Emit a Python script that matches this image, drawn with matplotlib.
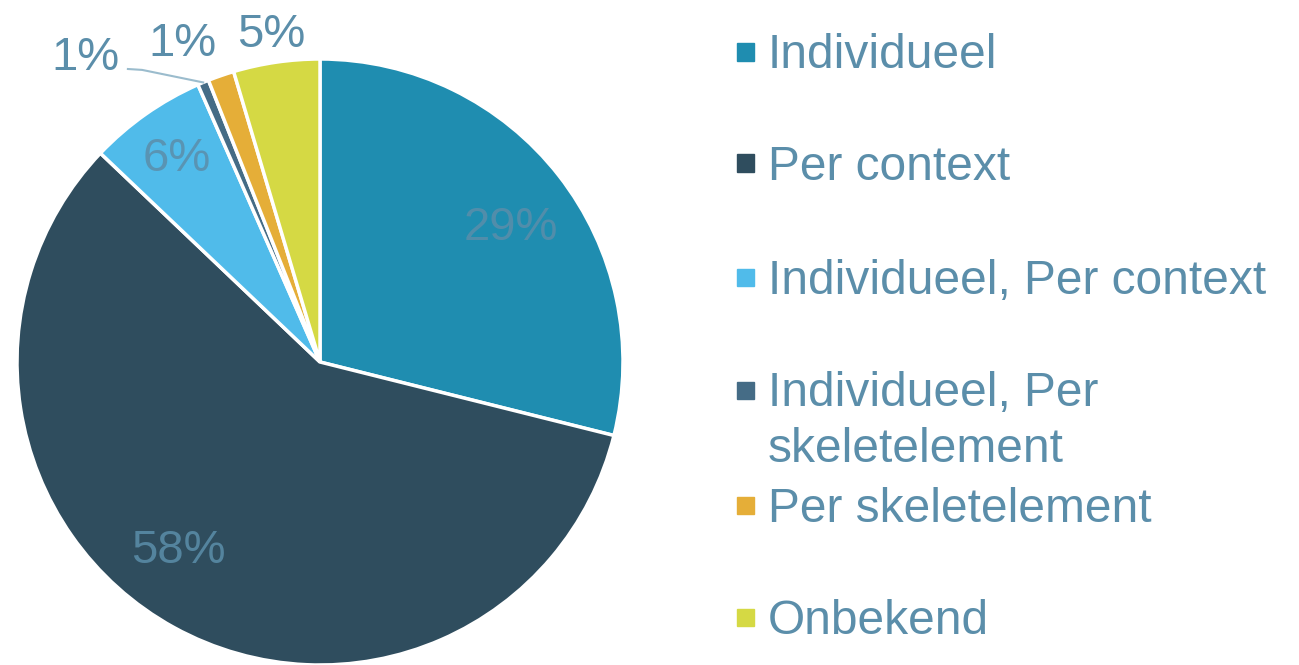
import numpy as np
import matplotlib.pyplot as plt
from matplotlib.patches import Rectangle

categories = ["Individueel", "Per context", "Individueel, Per context",
              "Individueel, Per\nskeletelement", "Per skeletelement", "Onbekend"]
shares = [28.9, 58.2, 6.3, 0.6, 1.4, 4.6]
colors = ["#1f8db0", "#2f4d5e", "#50bbea", "#456c86", "#e5ae38", "#d5d944"]
text_color = "#5b8eaa"

plt.rcParams['font.family'] = ['Liberation Sans', 'DejaVu Sans']

W, H = 1299, 665
fig = plt.figure(figsize=(W / 100, H / 100), dpi=100)

# pie centred at (320, 362) px, radius 303 px
cx, cy, r = 320, 362, 303
ax = fig.add_axes([(cx - r) / W, (H - cy - r) / H, 2 * r / W, 2 * r / H])
wedges, _ = ax.pie(shares, colors=colors, startangle=90, counterclock=False,
                   radius=1.0, wedgeprops=dict(edgecolor="white", linewidth=2.5))
ax.set_xlim(-1, 1)
ax.set_ylim(-1, 1)
ax.set_aspect("equal")
ax.axis("off")

# label spots (radius, angle offset in degrees from wedge middle)
label_spots = [(0.77, -3), (0.78, -8), (0.82, 0), (1.267, 15), (1.145, 4.3), (1.09, 0.3)]
for w, val, (rad, dang) in zip(wedges, shares, label_spots):
    mid = np.deg2rad((w.theta1 + w.theta2) / 2 + dang)
    ax.text(rad * np.cos(mid), rad * np.sin(mid), f"{round(val):.0f}%",
            ha="center", va="center", fontsize=34, color=text_color,
            alpha=0.85 if rad < 1 else 1.0, clip_on=False)

# leader line for the smallest slice
w = wedges[3]
mid = np.deg2rad((w.theta1 + w.theta2) / 2)
ex, ey = np.cos(mid), np.sin(mid)
ax.plot([-0.634, -0.587, ex], [0.967, 0.964, ey], color="#9bbccd",
        linewidth=1.5, clip_on=False)

# legend drawn on the figure
rows_y = [52, 163, 277, 390, 505, 617]
for name, col, y in zip(categories, colors, rows_y):
    fig.patches.append(Rectangle((737 / W, (H - y - 8.5) / H), 17 / W, 17 / H,
                                 transform=fig.transFigure, color=col))
    if "\n" in name:
        fig.text(768 / W, (H - y + 19) / H, name, ha="left", va="top",
                 fontsize=34.5, color=text_color, linespacing=1.3)
    else:
        fig.text(768 / W, (H - y - 4) / H, name, ha="left", va="center",
                 fontsize=34.5, color=text_color)

fig.savefig("out.png", dpi=100)
